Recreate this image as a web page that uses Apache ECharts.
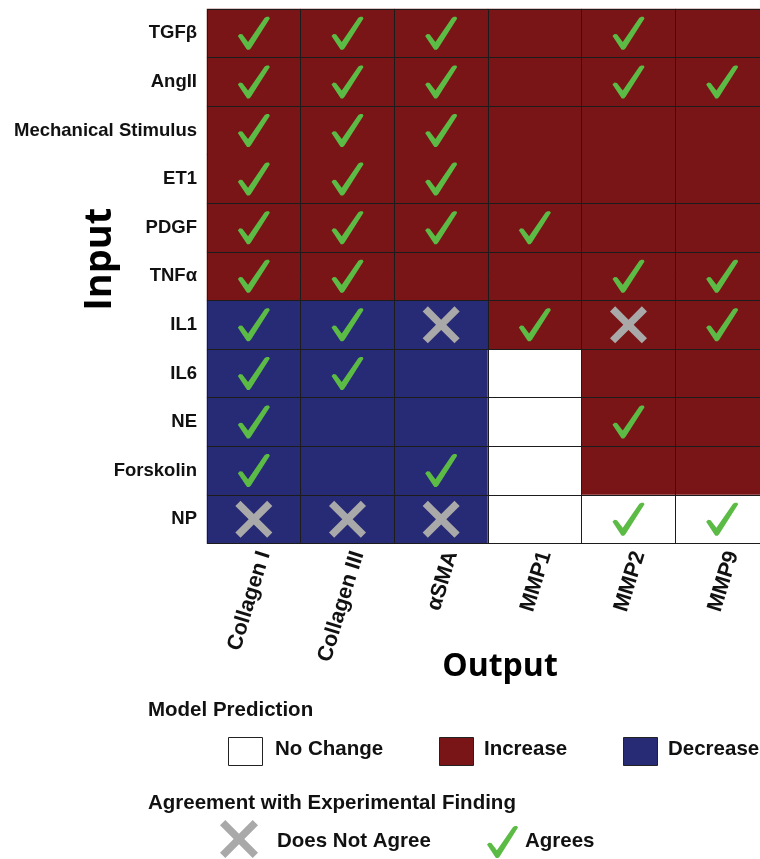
<!DOCTYPE html>
<html>
<head>
<meta charset="utf-8">
<script src="https://cdn.jsdelivr.net/npm/echarts@6/dist/echarts.min.js"></script>
<style>
  html, body { margin: 0; padding: 0; background: #fff; }
  #chart { width: 760px; height: 859px; }
</style>
</head>
<body>
<div id="chart"></div>
<script>
// columns (x) and rows (y, top to bottom)
const outputs = ['Collagen I', 'Collagen III', 'αSMA', 'MMP1', 'MMP2', 'MMP9'];
const inputs = ['TGFβ', 'AngII', 'Mechanical Stimulus', 'ET1', 'PDGF', 'TNFα', 'IL1', 'IL6', 'NE', 'Forskolin', 'NP'];

// model prediction: 1 = increase, -1 = decrease, 0 = no change
const prediction = [
  [1, 1, 1, 1, 1, 1],
  [1, 1, 1, 1, 1, 1],
  [1, 1, 1, 1, 1, 1],
  [1, 1, 1, 1, 1, 1],
  [1, 1, 1, 1, 1, 1],
  [1, 1, 1, 1, 1, 1],
  [-1, -1, -1, 1, 1, 1],
  [-1, -1, -1, 0, 1, 1],
  [-1, -1, -1, 0, 1, 1],
  [-1, -1, -1, 0, 1, 1],
  [-1, -1, -1, 0, 0, 0]
];

// agreement with experiment: 'Y' agrees, 'X' does not agree, '' no data
const agreement = [
  ['Y', 'Y', 'Y', '', 'Y', ''],
  ['Y', 'Y', 'Y', '', 'Y', 'Y'],
  ['Y', 'Y', 'Y', '', '', ''],
  ['Y', 'Y', 'Y', '', '', ''],
  ['Y', 'Y', 'Y', 'Y', '', ''],
  ['Y', 'Y', '', '', 'Y', 'Y'],
  ['Y', 'Y', 'X', 'Y', 'X', 'Y'],
  ['Y', 'Y', '', '', '', ''],
  ['Y', '', '', '', 'Y', ''],
  ['Y', '', 'Y', '', '', ''],
  ['X', 'X', 'X', '', 'Y', 'Y']
];

const RED = '#7a1517';
const BLUE = '#272a75';
const GREEN = '#5bbb45';
const GREY = '#a9a9a9';
const LINE = '#1c1c1c';
const FONT = 'Liberation Sans';

// marker outlines in a 100 x 100 box
const CHECK_PTS = [[0, 58], [6, 52], [14, 53], [32, 76], [84, 3], [90, 0], [97, 0], [100, 5], [41, 95], [36, 100], [29, 100], [26, 96]];
const CROSS_PTS = [[0, 14], [14, 0], [50, 36], [86, 0], [100, 14], [64, 50], [100, 86], [86, 100], [50, 64], [14, 100], [0, 86], [36, 50]];

function toPath (pts)
{
  return 'path://M' + pts.map(p => p[0] + ',' + p[1]).join(' L') + ' Z';
}

function placePts (pts, x, y, w, h)
{
  return pts.map(p => [x + p[0] * w / 100, y + p[1] * h / 100]);
}

let cells = [];
let agrees = [];
let disagrees = [];
prediction.forEach((row, r) =>
{
  row.forEach((v, c) =>
  {
    cells.push([c, r, v]);
    if (agreement[r][c] === 'Y') agrees.push([c, r]);
    if (agreement[r][c] === 'X') disagrees.push([c, r]);
  });
});

let chart = echarts.init(document.getElementById('chart'));

let legendText = (text, x, y) => ({
  type: 'text',
  x: x,
  y: y,
  style: {
    text: text,
    fill: '#111',
    font: 'bold 20.5px "' + FONT + '"',
    textAlign: 'left',
    textVerticalAlign: 'middle'
  }
});

let option = {
  animation: false,
  backgroundColor: '#fff',
  grid: {
    left: 207,
    top: 9,
    width: 562,
    height: 534.5,
    outerBoundsMode: 'none',
    containLabel: false
  },
  xAxis: {
    type: 'category',
    data: outputs,
    position: 'bottom',
    z: 3,
    axisLine: { show: false },
    axisTick: { show: false },
    splitLine: {
      show: true,
      interval: 0,
      lineStyle: { color: LINE, width: 1 }
    },
    axisLabel: {
      interval: 0,
      rotate: 73,
      margin: 5,
      verticalAlign: 'top',
      color: '#111',
      fontSize: 21.5,
      fontWeight: 'bold',
      fontFamily: FONT
    },
    name: 'Output',
    nameLocation: 'middle',
    nameGap: 107,
    nameMoveOverlap: false,
    nameTextStyle: {
      color: '#000',
      fontSize: 32,
      fontWeight: 'bold',
      fontFamily: 'Open Sans',
      padding: [0, 0, 0, 24]
    }
  },
  yAxis: {
    type: 'category',
    data: inputs,
    inverse: true,
    z: 3,
    axisLine: { show: false },
    axisTick: { show: false },
    splitLine: {
      show: true,
      // no rule between Mechanical Stimulus and ET1 in the original
      interval: (index) => index !== 3,
      lineStyle: { color: LINE, width: 1 }
    },
    axisLabel: {
      margin: 10,
      color: '#111',
      fontSize: 18.5,
      fontWeight: 'bold',
      fontFamily: FONT
    },
    name: 'Input',
    nameLocation: 'middle',
    nameGap: 88,
    nameMoveOverlap: false,
    nameTextStyle: {
      color: '#000',
      fontSize: 38,
      fontWeight: 'bold',
      fontFamily: 'Open Sans',
      padding: [0, 0, 0, 34]
    }
  },
  visualMap: {
    type: 'piecewise',
    show: false,
    seriesIndex: 0,
    dimension: 2,
    pieces: [
      { value: 0, label: 'No Change', color: '#ffffff' },
      { value: 1, label: 'Increase', color: RED },
      { value: -1, label: 'Decrease', color: BLUE }
    ]
  },
  series: [
    {
      name: 'Model Prediction',
      type: 'heatmap',
      data: cells,
      itemStyle: { borderWidth: 0 },
      emphasis: { disabled: true },
      z: 1
    },
    {
      name: 'Agrees',
      type: 'scatter',
      data: agrees,
      symbol: toPath(CHECK_PTS),
      symbolSize: [32, 33],
      itemStyle: { color: GREEN, opacity: 1 },
      emphasis: { disabled: true },
      z: 5
    },
    {
      name: 'Does Not Agree',
      type: 'scatter',
      data: disagrees,
      symbol: toPath(CROSS_PTS),
      symbolSize: [37, 37],
      itemStyle: { color: GREY, opacity: 1 },
      emphasis: { disabled: true },
      z: 5
    }
  ],
  graphic: [
    legendText('Model Prediction', 148, 710),
    { type: 'rect', shape: { x: 228.5, y: 737.5, width: 34, height: 28 }, style: { fill: '#fff', stroke: '#222', lineWidth: 1 } },
    legendText('No Change', 275, 749),
    { type: 'rect', shape: { x: 439.5, y: 737.5, width: 34, height: 28 }, style: { fill: RED, stroke: '#222', lineWidth: 1 } },
    legendText('Increase', 484, 749),
    { type: 'rect', shape: { x: 623.5, y: 737.5, width: 34, height: 28 }, style: { fill: BLUE, stroke: '#222', lineWidth: 1 } },
    legendText('Decrease', 668, 749),
    legendText('Agreement with Experimental Finding', 148, 803),
    { type: 'polygon', shape: { points: placePts(CROSS_PTS, 220, 820, 38, 38) }, style: { fill: GREY } },
    legendText('Does Not Agree', 277, 841),
    { type: 'polygon', shape: { points: placePts(CHECK_PTS, 487, 826, 31, 32) }, style: { fill: GREEN } },
    legendText('Agrees', 525, 841)
  ]
};

chart.setOption(option);
</script>
</body>
</html>
